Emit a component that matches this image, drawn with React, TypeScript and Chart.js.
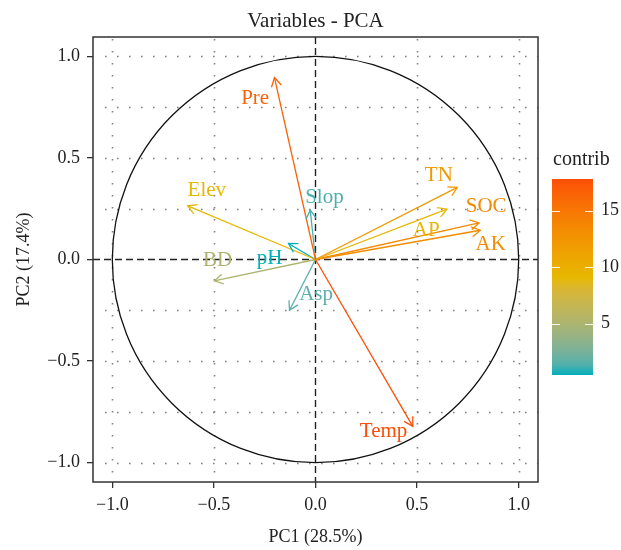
import { useEffect, useRef } from 'react';
import { Chart, registerables } from 'chart.js';

Chart.register(...registerables);

// ---- data ----
const variables = ['Pre', 'Elev', 'Slop', 'TN', 'AP', 'SOC', 'AK', 'BD', 'pH', 'Asp', 'Temp'];
const pc1 = [-0.202, -0.629, -0.026, 0.698, 0.647, 0.805, 0.811, -0.498, -0.133, -0.128, 0.479];
const pc2 = [0.895, 0.264, 0.243, 0.355, 0.248, 0.18, 0.144, -0.105, 0.079, -0.25, -0.821];
const contrib = [16.6, 9.1, 1.2, 12.1, 9.4, 13.4, 13.3, 5.1, 0.45, 1.6, 17.8];
// label anchor positions (data units)
const labelX = [-0.297, -0.535, 0.044, 0.607, 0.545, 0.84, 0.862, -0.482, -0.226, 0.003, 0.335];
const labelY = [0.79, 0.342, 0.304, 0.415, 0.144, 0.26, 0.075, -0.007, 0.004, -0.172, -0.845];
const xTicks = [-1, -0.5, 0, 0.5, 1];
const yTicks = [-1, -0.5, 0, 0.5, 1];
const hGrid = [-1, -0.75, -0.5, -0.25, 0.25, 0.5, 0.75, 1];
const vGrid = [-1, -0.5, 0.5, 1];
const legendTicks = [5, 10, 15];
const gradientStops = ['#00AFBB', '#E7B800', '#FC4E07'];

const FONT = '"Liberation Serif", "DejaVu Serif", serif';

function hexToRgb(h: string) {
  const n = parseInt(h.slice(1), 16);
  return [(n >> 16) & 255, (n >> 8) & 255, n & 255];
}
function srgbToLin(c: number) {
  c /= 255;
  return c <= 0.04045 ? c / 12.92 : Math.pow((c + 0.055) / 1.055, 2.4);
}
function linToSrgb(c: number) {
  const v = c <= 0.0031308 ? 12.92 * c : 1.055 * Math.pow(c, 1 / 2.4) - 0.055;
  return Math.max(0, Math.min(255, Math.round(v * 255)));
}
const WX = 0.95047, WY = 1.0, WZ = 1.08883;
function rgbToLab(rgb: number[]) {
  const [r, g, b] = rgb.map(srgbToLin);
  const X = (0.4124 * r + 0.3576 * g + 0.1805 * b) / WX;
  const Y = (0.2126 * r + 0.7152 * g + 0.0722 * b) / WY;
  const Z = (0.0193 * r + 0.1192 * g + 0.9505 * b) / WZ;
  const f = (t: number) => (t > 216 / 24389 ? Math.cbrt(t) : (24389 / 27 * t + 16) / 116);
  const fx = f(X), fy = f(Y), fz = f(Z);
  return [116 * fy - 16, 500 * (fx - fy), 200 * (fy - fz)];
}
function labToRgb(lab: number[]) {
  const [L, a, b] = lab;
  const fy = (L + 16) / 116, fx = fy + a / 500, fz = fy - b / 200;
  const fi = (t: number) => (t * t * t > 216 / 24389 ? t * t * t : (116 * t - 16) / (24389 / 27));
  const X = fi(fx) * WX, Y = fi(fy) * WY, Z = fi(fz) * WZ;
  const r = 3.2406 * X - 1.5372 * Y - 0.4986 * Z;
  const g = -0.9689 * X + 1.8758 * Y + 0.0415 * Z;
  const bb = 0.0557 * X - 0.204 * Y + 1.057 * Z;
  return [linToSrgb(r), linToSrgb(g), linToSrgb(bb)];
}
const stopLabs = gradientStops.map((h) => rgbToLab(hexToRgb(h)));
function gradColor(t: number) {
  t = Math.max(0, Math.min(1, t));
  const seg = t < 0.5 ? 0 : 1;
  const lt = t < 0.5 ? t / 0.5 : (t - 0.5) / 0.5;
  const a = stopLabs[seg];
  const b = stopLabs[seg + 1];
  const c = labToRgb(a.map((v, i) => v + (b[i] - v) * lt));
  return `rgb(${c[0]},${c[1]},${c[2]})`;
}
function fmt(v: number) {
  const s = Math.abs(v).toFixed(1);
  return v < 0 ? '\u2212' + s : s;
}

export default function App() {
  const ref = useRef<HTMLCanvasElement>(null);
  useEffect(() => {
    const canvas = ref.current!;
    const cmin = Math.min(...contrib);
    const cmax = Math.max(...contrib);
    const colors = contrib.map((v) => gradColor((v - cmin) / (cmax - cmin)));

    const plugin = {
      id: 'pcaDecor',
      beforeDatasetsDraw(chart: any) {
        const { ctx, chartArea: ca, scales } = chart;
        const xs = scales.x, ys = scales.y;
        ctx.save();
        // dotted grid
        ctx.strokeStyle = '#808080';
        ctx.lineWidth = 1.6;
        ctx.setLineDash([1.6, 10.4]);
        hGrid.forEach((v) => {
          const y = Math.round(ys.getPixelForValue(v)) + 0.5;
          ctx.beginPath();
          ctx.moveTo(ca.left + 12, y);
          ctx.lineTo(ca.right, y);
          ctx.stroke();
        });
        vGrid.forEach((v) => {
          const x = Math.round(xs.getPixelForValue(v)) + 0.5;
          ctx.beginPath();
          ctx.moveTo(x, ca.top + 2);
          ctx.lineTo(x, ca.bottom);
          ctx.stroke();
        });
        // circle
        ctx.setLineDash([]);
        ctx.strokeStyle = '#111';
        ctx.lineWidth = 1.3;
        const cx = xs.getPixelForValue(0), cy = ys.getPixelForValue(0);
        const r = xs.getPixelForValue(1) - cx;
        ctx.beginPath();
        ctx.arc(cx, cy, r, 0, Math.PI * 2);
        ctx.stroke();
        // dashed axes
        ctx.strokeStyle = '#222';
        ctx.lineWidth = 1.4;
        ctx.setLineDash([7, 4]);
        ctx.beginPath();
        ctx.moveTo(ca.left, cy);
        ctx.lineTo(ca.right, cy);
        ctx.stroke();
        ctx.beginPath();
        ctx.moveTo(cx, ca.top);
        ctx.lineTo(cx, ca.bottom);
        ctx.stroke();
        ctx.restore();
      },
      afterDatasetsDraw(chart: any) {
        const { ctx, scales } = chart;
        const xs = scales.x, ys = scales.y;
        ctx.save();
        const ox = xs.getPixelForValue(0), oy = ys.getPixelForValue(0);
        variables.forEach((name, i) => {
          const px = xs.getPixelForValue(pc1[i]);
          const py = ys.getPixelForValue(pc2[i]);
          const a = Math.atan2(py - oy, px - ox);
          const len = 10;
          const da = Math.PI / 6;
          ctx.strokeStyle = colors[i];
          ctx.lineWidth = 1.3;
          ctx.beginPath();
          ctx.moveTo(px - len * Math.cos(a - da), py - len * Math.sin(a - da));
          ctx.lineTo(px, py);
          ctx.lineTo(px - len * Math.cos(a + da), py - len * Math.sin(a + da));
          ctx.stroke();
          ctx.fillStyle = colors[i];
          ctx.font = `21px ${FONT}`;
          ctx.textAlign = 'center';
          ctx.textBaseline = 'middle';
          ctx.fillText(name, xs.getPixelForValue(labelX[i]), ys.getPixelForValue(labelY[i]));
        });
        ctx.restore();
      },
      afterDraw(chart: any) {
        const { ctx, chartArea: ca } = chart;
        ctx.save();
        // panel border
        ctx.strokeStyle = '#333';
        ctx.lineWidth = 1.5;
        ctx.strokeRect(ca.left, ca.top, ca.right - ca.left, ca.bottom - ca.top);
        // title
        ctx.fillStyle = '#222';
        ctx.textAlign = 'center';
        ctx.textBaseline = 'middle';
        ctx.font = `21px ${FONT}`;
        ctx.fillText('Variables - PCA', (ca.left + ca.right) / 2, 21);
        // axis titles
        ctx.font = `18px ${FONT}`;
        ctx.fillText('PC1 (28.5%)', (ca.left + ca.right) / 2, 537);
        ctx.save();
        ctx.translate(24, (ca.top + ca.bottom) / 2);
        ctx.rotate(-Math.PI / 2);
        ctx.fillText('PC2 (17.4%)', 0, 0);
        ctx.restore();
        // legend
        const lx = 552, lw = 41, ltop = 179, lbot = 375;
        const g = ctx.createLinearGradient(0, lbot, 0, ltop);
        for (let k = 0; k <= 20; k++) g.addColorStop(k / 20, gradColor(k / 20));
        ctx.fillStyle = g;
        ctx.fillRect(lx, ltop, lw, lbot - ltop);
        ctx.fillStyle = '#222';
        ctx.textAlign = 'left';
        ctx.font = `20px ${FONT}`;
        ctx.fillText('contrib', 553, 160);
        ctx.font = `18px ${FONT}`;
        legendTicks.forEach((v) => {
          const y = lbot - ((v - cmin) / (cmax - cmin)) * (lbot - ltop);
          ctx.strokeStyle = 'rgba(255,255,255,0.9)';
          ctx.lineWidth = 1;
          ctx.beginPath();
          ctx.moveTo(lx, Math.round(y) + 0.5);
          ctx.lineTo(lx + 8, Math.round(y) + 0.5);
          ctx.moveTo(lx + lw - 8, Math.round(y) + 0.5);
          ctx.lineTo(lx + lw, Math.round(y) + 0.5);
          ctx.stroke();
          ctx.fillStyle = '#222';
          ctx.fillText(String(v), 601, y);
        });
        ctx.restore();
      },
    };

    const tickGrid = { display: true, drawOnChartArea: false, drawTicks: true, tickLength: 6, color: '#333', lineWidth: 1.3 };

    const chart = new Chart(canvas, {
      type: 'scatter',
      data: {
        datasets: variables.map((name, i) => ({
          label: name,
          data: [{ x: 0, y: 0 }, { x: pc1[i], y: pc2[i] }],
          showLine: true,
          borderColor: colors[i],
          borderWidth: 1.3,
          pointRadius: 0,
          pointHoverRadius: 0,
        })),
      },
      options: {
        responsive: false,
        animation: false,
        devicePixelRatio: 1,
        events: [],
        layout: { padding: { top: 37, right: 83, left: 0, bottom: 0 } },
        plugins: { legend: { display: false }, tooltip: { enabled: false }, title: { display: false } },
        scales: {
          x: {
            type: 'linear',
            min: -1.095,
            max: 1.095,
            afterBuildTicks: (s: any) => { s.ticks = xTicks.map((v) => ({ value: v })); },
            afterFit: (s: any) => { s.height = 68; },
            grid: tickGrid,
            border: { display: false },
            ticks: { autoSkip: false, maxRotation: 0, padding: 6, color: '#222', font: { family: FONT, size: 18 }, callback: (v: any) => fmt(Number(v)) },
          },
          y: {
            type: 'linear',
            min: -1.095,
            max: 1.095,
            afterBuildTicks: (s: any) => { s.ticks = yTicks.map((v) => ({ value: v })); },
            afterFit: (s: any) => { s.width = 93; },
            grid: tickGrid,
            border: { display: false },
            ticks: { autoSkip: false, padding: 7, color: '#222', font: { family: FONT, size: 18 }, callback: (v: any) => fmt(Number(v)) },
          },
        },
      },
      plugins: [plugin],
    } as any);
    return () => chart.destroy();
  }, []);

  return (
    <div style={{ position: 'absolute', left: 0, top: 0, width: 621, height: 550, background: '#fff' }}>
      <canvas ref={ref} width={621} height={550} style={{ display: 'block' }} />
    </div>
  );
}
